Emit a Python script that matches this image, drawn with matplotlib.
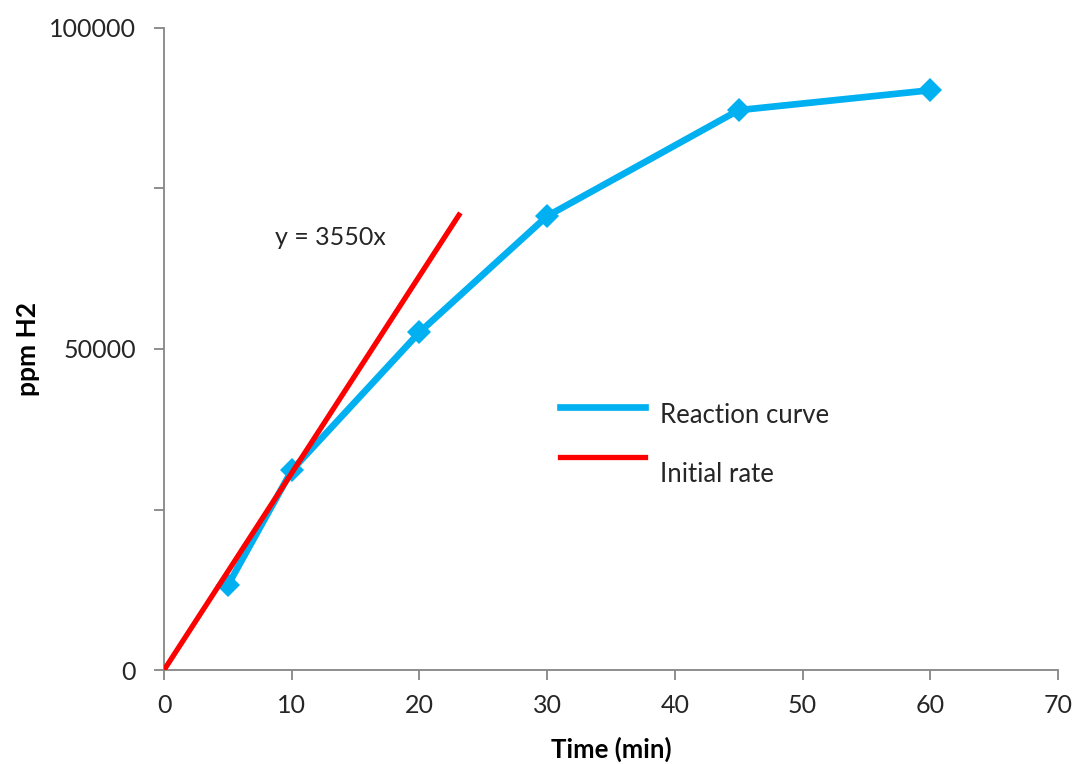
import matplotlib
matplotlib.use("Agg")
import matplotlib.pyplot as plt
from matplotlib.ticker import MultipleLocator, FixedLocator

plt.rcParams['font.family'] = ['Lato', 'DejaVu Sans']

# Reaction curve data
time_min = [5, 10, 20, 30, 45, 60]
ppm_h2 = [13200, 31100, 52600, 70700, 87200, 90300]

# Initial-rate line (start and end points)
rate_time = [0, 23.2]
rate_ppm = [0, 71200]
rate_label = "y = 3550x"

series_labels = ["Reaction curve", "Initial rate"]
blue = "#00B0F0"
red = "#FF0000"
axis_grey = "#868686"
text_col = "#262626"

fig = plt.figure(figsize=(10.77, 7.64), dpi=100)
ax = fig.add_axes([0.1523, 0.1230, 0.8301, 0.8404])

ax.plot(time_min, ppm_h2, color=blue, lw=4.8, marker="D", ms=12,
        markeredgewidth=0, solid_capstyle="round", zorder=3)
ax.plot(rate_time, rate_ppm, color=red, lw=3.8, solid_capstyle="butt", zorder=4)

ax.text(13.0, 67300, rate_label, fontsize=18, color=text_col,
        ha="center", va="center")

ax.set_xlim(0, 70)
ax.set_ylim(0, 100000)
ax.xaxis.set_major_locator(MultipleLocator(10))
ax.yaxis.set_major_locator(FixedLocator([0, 50000, 100000]))
ax.yaxis.set_minor_locator(FixedLocator([25000, 75000]))

for s in ["top", "right"]:
    ax.spines[s].set_visible(False)
for s in ["left", "bottom"]:
    ax.spines[s].set_color(axis_grey)
    ax.spines[s].set_linewidth(1.3)

ax.tick_params(axis="both", which="both", direction="out", length=7,
               width=1.3, color=axis_grey, labelsize=18, labelcolor=text_col)
ax.tick_params(axis="x", pad=10)
ax.tick_params(axis="y", pad=13)

ax.set_xlabel("Time (min)", fontsize=18.5, fontweight="bold", color="black")
ax.set_ylabel("ppm H2", fontsize=19, fontweight="bold", color="black")
ax.xaxis.set_label_coords(0.5, -0.104)
ax.yaxis.set_label_coords(-0.1385, 0.50)

# Legend entries
tr = ax.transAxes
ax.plot([0.443, 0.538], [0.4097, 0.4097], color=blue, lw=4.8, transform=tr,
        clip_on=False)
ax.plot([0.443, 0.538], [0.332, 0.332], color=red, lw=3.8, transform=tr,
        clip_on=False)
ax.text(0.555, 0.397, series_labels[0], transform=tr, fontsize=18.5,
        color=text_col, va="center", ha="left")
ax.text(0.555, 0.304, series_labels[1], transform=tr, fontsize=18.5,
        color=text_col, va="center", ha="left")

fig.savefig("out.png", dpi=100, facecolor="white")
